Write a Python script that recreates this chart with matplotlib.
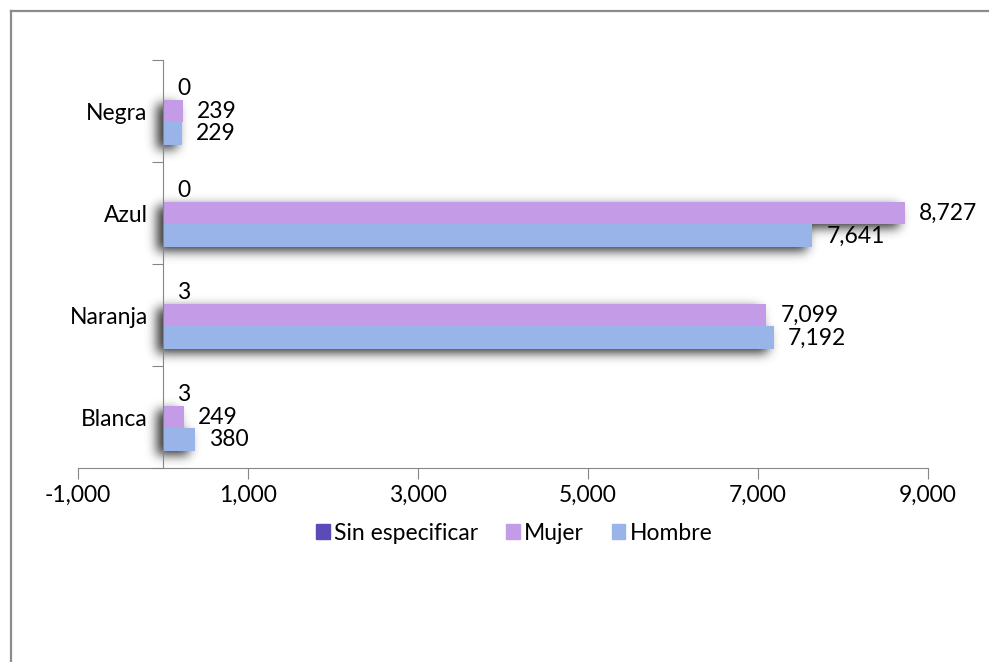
import matplotlib
matplotlib.use("Agg")
import numpy as np
import matplotlib.pyplot as plt
from matplotlib.patches import Rectangle
from matplotlib.lines import Line2D
from matplotlib.ticker import FixedLocator, FuncFormatter

plt.rcParams['font.family'] = ['Lato', 'DejaVu Sans']

categories = ["Blanca", "Naranja", "Azul", "Negra"]
series_names = ["Sin especificar", "Mujer", "Hombre"]
sin_especificar = [3, 3, 0, 0]
mujer = [249, 7099, 8727, 239]
hombre = [380, 7192, 7641, 229]
x_ticks = [-1000, 1000, 3000, 5000, 7000, 9000]

colors = {"Sin especificar": "#5a4cb8", "Mujer": "#c39be6", "Hombre": "#99b4e8"}
values = {"Sin especificar": sin_especificar, "Mujer": mujer, "Hombre": hombre}
# vertical offset of each series inside a category (top to bottom)
bar_h = 0.225
offsets = {"Sin especificar": bar_h, "Mujer": 0.0, "Hombre": -bar_h}
FS = 16.5

fig = plt.figure(figsize=(9.89, 6.62), dpi=100)
ax_w_px, ax_h_px = 850, 408
ax = fig.add_axes([78 / 989, 1 - 468 / 662, ax_w_px / 989, ax_h_px / 662])
xmin, xmax, ymin, ymax = -1000, 9000, -0.5, 3.5
ax.set_xlim(xmin, xmax)
ax.set_ylim(ymin, ymax)

ys = list(range(len(categories)))

# soft drop shadow: rasterise the bars on a pixel grid, shift, gaussian-blur
cols = (np.arange(ax_w_px) + 0.5) / ax_w_px * (xmax - xmin) + xmin
rows = ymax - (np.arange(ax_h_px) + 0.5) / ax_h_px * (ymax - ymin)
X, Y = np.meshgrid(cols, rows)
mask = np.zeros((ax_h_px, ax_w_px))
dx_px, dy_px = -6, 4
sx = dx_px * (xmax - xmin) / ax_w_px
sy = -dy_px * (ymax - ymin) / ax_h_px
for name in series_names:
    for y, v in zip(ys, values[name]):
        yc = y + offsets[name] + sy
        x0, x1 = 0 + sx, v + sx
        inside = (X >= min(x0, x1) - 1) & (X <= max(x0, x1) + 1) & \
                 (Y >= yc - bar_h / 2) & (Y <= yc + bar_h / 2)
        mask[inside] = 1.0

sigma = 5.5
r = int(3 * sigma)
kern = np.exp(-0.5 * (np.arange(-r, r + 1) / sigma) ** 2)
kern /= kern.sum()
blur = np.apply_along_axis(lambda m: np.convolve(m, kern, mode="same"), 1, mask)
blur = np.apply_along_axis(lambda m: np.convolve(m, kern, mode="same"), 0, blur)
shadow = np.zeros((ax_h_px, ax_w_px, 4))
shadow[..., 3] = 0.8 * blur
ax.imshow(shadow, extent=(xmin, xmax, ymin, ymax), aspect="auto",
          interpolation="bilinear", zorder=1)

for name in series_names:
    ax.barh([y + offsets[name] for y in ys], values[name], height=bar_h,
            color=colors[name], zorder=3, label=name)
    for y, v in zip(ys, values[name]):
        ax.annotate(f"{v:,}", (v, y + offsets[name]), xytext=(10, 0),
                    textcoords="offset points", ha="left", va="center",
                    fontsize=FS, color="black", zorder=5)

axis_color = "#868686"
for s in ["top", "right"]:
    ax.spines[s].set_visible(False)
ax.spines["left"].set_position(("data", 0))
ax.spines["left"].set_color(axis_color)
ax.spines["bottom"].set_color(axis_color)
ax.spines["left"].set_zorder(4)
ax.spines["bottom"].set_zorder(4)

ax.xaxis.set_major_locator(FixedLocator(x_ticks))
ax.xaxis.set_major_formatter(FuncFormatter(lambda v, p: f"{int(v):,}"))
ax.tick_params(axis="x", direction="out", length=8, color=axis_color,
               labelsize=FS, pad=4)

ax.yaxis.set_major_locator(FixedLocator([-0.5, 0.5, 1.5, 2.5, 3.5]))
ax.yaxis.set_major_formatter(FuncFormatter(lambda v, p: ""))
ax.yaxis.set_minor_locator(FixedLocator(ys))
ax.set_yticklabels(categories, minor=True)
ax.tick_params(axis="y", which="major", direction="out", length=8, color=axis_color)
ax.tick_params(axis="y", which="minor", length=0, labelsize=FS, pad=11)

handles = [Rectangle((0, 0), 1, 1, color=colors[n]) for n in series_names]
fig.legend(handles, series_names, loc="center", bbox_to_anchor=(0.52, 1 - 533 / 662),
           ncol=3, frameon=False, fontsize=FS, handlelength=0.6, handleheight=0.6,
           handletextpad=0.2, columnspacing=1.2)

# outer frame (top and left edges)
border = "#8c8c8c"
fig.add_artist(Line2D([11 / 989, 11 / 989], [0, 1 - 11 / 662], transform=fig.transFigure,
                      color=border, lw=1.6))
fig.add_artist(Line2D([11 / 989, 1], [1 - 11 / 662, 1 - 11 / 662], transform=fig.transFigure,
                      color=border, lw=1.6))

fig.savefig("out.png", dpi=100, facecolor="white")
